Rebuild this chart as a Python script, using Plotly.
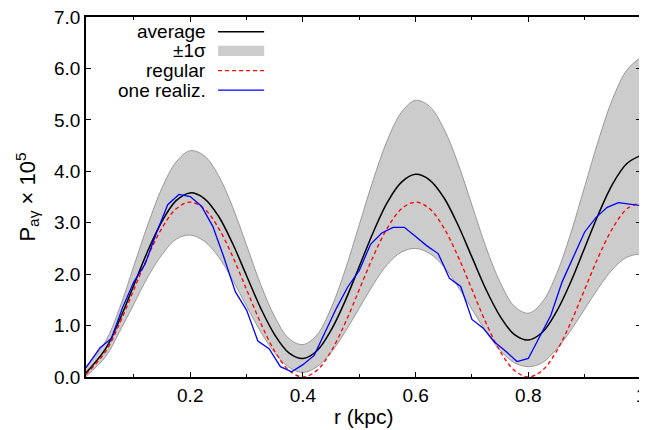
import plotly.graph_objects as go

# ---- data ----
r = [0.015, 0.05, 0.075, 0.1, 0.125, 0.15, 0.175, 0.2, 0.225, 0.25, 0.275, 0.3, 0.325, 0.35,
     0.375, 0.4, 0.425, 0.45, 0.475, 0.5, 0.525, 0.55, 0.575, 0.6, 0.625, 0.65, 0.675, 0.7,
     0.725, 0.75, 0.775, 0.8, 0.825, 0.85, 0.875, 0.9, 0.925, 0.95, 0.975, 1.0]

average = [0.08, 0.55, 1.12, 1.79, 2.46, 3.03, 3.43, 3.58, 3.47, 3.13, 2.60, 1.97, 1.34, 0.82,
           0.47, 0.36, 0.51, 0.91, 1.48, 2.15, 2.82, 3.40, 3.79, 3.94, 3.83, 3.49, 2.96, 2.33,
           1.70, 1.18, 0.83, 0.72, 0.87, 1.27, 1.84, 2.51, 3.18, 3.76, 4.15, 4.31]

upper = [0.20, 0.70, 1.35, 2.16, 2.97, 3.68, 4.18, 4.40, 4.30, 3.92, 3.31, 2.56, 1.80, 1.17,
         0.75, 0.63, 0.82, 1.34, 2.08, 2.96, 3.84, 4.61, 5.15, 5.38, 5.26, 4.83, 4.16, 3.34,
         2.52, 1.84, 1.38, 1.24, 1.46, 2.00, 2.78, 3.70, 4.62, 5.42, 5.97, 6.22]

lower = [0.01, 0.40, 0.89, 1.42, 1.95, 2.38, 2.68, 2.76, 2.64, 2.34, 1.89, 1.38, 0.88, 0.47,
         0.19, 0.09, 0.20, 0.48, 0.88, 1.34, 1.80, 2.19, 2.43, 2.50, 2.40, 2.15, 1.76, 1.32,
         0.88, 0.52, 0.28, 0.20, 0.28, 0.54, 0.90, 1.32, 1.74, 2.10, 2.33, 2.40]

regular = [0.05, 0.50, 1.05, 1.70, 2.35, 2.90, 3.27, 3.40, 3.27, 2.90, 2.35, 1.70, 1.05, 0.50,
           0.13, 0.00, 0.13, 0.50, 1.05, 1.70, 2.35, 2.90, 3.27, 3.40, 3.27, 2.90, 2.35, 1.70,
           1.05, 0.50, 0.13, 0.00, 0.13, 0.50, 1.05, 1.70, 2.35, 2.90, 3.27, 3.40]

r_one = [0.015, 0.04, 0.06, 0.08, 0.10, 0.12, 0.14, 0.16, 0.18, 0.20, 0.22, 0.24, 0.26, 0.28,
         0.30, 0.32, 0.34, 0.36, 0.38, 0.40, 0.42, 0.44, 0.46, 0.48, 0.50, 0.52, 0.54, 0.56,
         0.58, 0.60, 0.62, 0.64, 0.66, 0.68, 0.70, 0.72, 0.74, 0.76, 0.78, 0.80, 0.82, 0.84,
         0.86, 0.88, 0.90, 0.92, 0.94, 0.96, 0.98, 1.00]
one_realiz = [0.18, 0.57, 0.75, 1.35, 1.85, 2.20, 2.80, 3.35, 3.55, 3.51, 3.32, 2.93, 2.32, 1.66,
              1.30, 0.70, 0.55, 0.20, 0.10, 0.24, 0.42, 0.90, 1.35, 1.76, 2.07, 2.58, 2.80, 2.91,
              2.91, 2.73, 2.55, 2.40, 1.92, 1.76, 1.12, 0.95, 0.68, 0.50, 0.30, 0.36, 0.78, 1.20,
              1.85, 2.35, 2.82, 3.10, 3.30, 3.39, 3.36, 3.33]

x_tickvals = [0.2, 0.4, 0.6, 0.8, 1.0]
x_ticktext = ["0.2", "0.4", "0.6", "0.8", "1"]
y_tickvals = [0, 1, 2, 3, 4, 5, 6, 7]
y_ticktext = ["0.0", "1.0", "2.0", "3.0", "4.0", "5.0", "6.0", "7.0"]

legend_labels = ["average", "\u00b11\u03c3", "regular", "one realiz."]

FONT = "Liberation Sans, Arial, Helvetica, sans-serif"
BAND_FILL = "#cccccc"
BAND_EDGE = "#999999"

fig = go.Figure()
fig.add_trace(go.Scatter(x=r, y=lower, mode="lines", line=dict(color=BAND_EDGE, width=1, shape="spline"),
                         showlegend=False, hoverinfo="skip"))
fig.add_trace(go.Scatter(x=r, y=upper, mode="lines", fill="tonexty", fillcolor=BAND_FILL,
                         line=dict(color=BAND_EDGE, width=1, shape="spline"), showlegend=False))
fig.add_trace(go.Scatter(x=r, y=average, mode="lines", line=dict(color="black", width=1.5, shape="spline"),
                         showlegend=False))
fig.add_trace(go.Scatter(x=r, y=regular, mode="lines",
                         line=dict(color="#ff0000", width=1.3, dash="4px,3px", shape="spline"),
                         showlegend=False))
fig.add_trace(go.Scatter(x=r_one, y=one_realiz, mode="lines", line=dict(color="#0000ff", width=1.3),
                         showlegend=False))

# manual legend (text right-aligned, key on the right, as in the reference)
rows_y = [0.959, 0.906, 0.851, 0.797]
txt_x = 0.22
k0, k1 = 0.238, 0.321
for lbl, yy in zip(legend_labels, rows_y):
    fig.add_annotation(xref="paper", yref="paper", x=txt_x, y=yy, text=lbl, showarrow=False,
                       xanchor="right", yanchor="middle", font=dict(family=FONT, size=19, color="black"))
fig.add_shape(type="line", xref="paper", yref="paper", x0=k0, x1=k1, y0=rows_y[0], y1=rows_y[0],
              line=dict(color="black", width=1.5))
fig.add_shape(type="rect", xref="paper", yref="paper", x0=k0, x1=k1, y0=rows_y[1] - 0.014,
              y1=rows_y[1] + 0.014, line=dict(width=0), fillcolor=BAND_FILL)
fig.add_shape(type="line", xref="paper", yref="paper", x0=k0, x1=k1, y0=rows_y[2], y1=rows_y[2],
              line=dict(color="#ff0000", width=1.3, dash="4px,3px"))
fig.add_shape(type="line", xref="paper", yref="paper", x0=k0, x1=k1, y0=rows_y[3], y1=rows_y[3],
              line=dict(color="#0000ff", width=1.3))

# axis titles as annotations placed in the margins
fig.add_annotation(xref="paper", yref="paper", x=0.5, y=-0.11, text="r (kpc)", showarrow=False,
                   xanchor="center", yanchor="middle", font=dict(family=FONT, size=21, color="black"))
fig.add_annotation(xref="paper", yref="paper", x=-0.107, y=0.5,
                   text="P<sub>a\u03b3</sub> \u00d7 10<sup>5</sup>", showarrow=False, textangle=-90,
                   xanchor="center", yanchor="middle", font=dict(family=FONT, size=22, color="black"))

axis_common = dict(showgrid=False, zeroline=False, showline=True, linecolor="black", linewidth=1.5,
                   mirror="allticks", ticks="inside", tickcolor="black", tickwidth=1, ticklen=5,
                   automargin=False, ticklabeloverflow="allow",
                   tickfont=dict(family=FONT, size=19, color="black"))

fig.update_xaxes(range=[0.015, 1.0], tickmode="array", tickvals=x_tickvals, ticktext=x_ticktext,
                 minor=dict(ticks="inside", dtick=0.1, tick0=0, ticklen=3, tickcolor="black", showgrid=False),
                 **axis_common)
fig.update_yaxes(range=[0, 7], tickmode="array", tickvals=y_tickvals, ticktext=y_ticktext,
                 **axis_common)

# the page body adds an 8px offset, so the figure is 8px smaller than the window
fig.update_layout(width=639, height=422, margin=dict(l=78, r=6, t=9, b=53),
                  plot_bgcolor="white", paper_bgcolor="white", showlegend=False)

fig.write_html("out.html")
